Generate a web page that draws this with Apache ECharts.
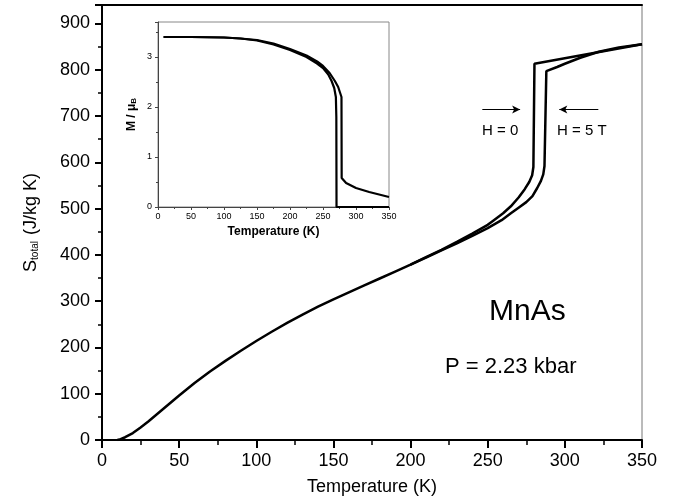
<!DOCTYPE html>
<html>
<head>
<meta charset="utf-8">
<script src="https://cdn.jsdelivr.net/npm/echarts@6/dist/echarts.min.js"></script>
<style>
  html, body { margin: 0; padding: 0; background: #fff; }
  #chart { width: 685px; height: 503px; }
</style>
</head>
<body>
<div id="chart"></div>
<script>
// total entropy S (J/kg K) vs temperature (K)
var sZeroField = [
  [10, 0], [12, 2], [15, 6], [20, 15], [25, 27], [30, 40], [35, 54], [40, 68], [45, 82],
  [50, 96], [60, 123], [70, 148], [80, 171], [90, 193], [100, 214], [110, 234], [120, 253],
  [130, 271], [140, 288], [150, 304], [160, 319], [170, 334], [180, 349], [190, 364],
  [200, 379], [210, 395], [220, 411], [230, 428], [240, 446], [250, 465], [254, 475],
  [260, 490], [265, 505], [270, 524], [274, 542], [277, 558], [278.8, 572], [279.6, 590],
  [280.3, 813], [350, 855]
];
var sFiveTesla = [
  [200, 379], [210, 394], [220, 410], [230, 425], [240, 441], [250, 458], [259, 475],
  [265, 490], [270, 502], [275, 514], [279, 527], [282, 544], [284.5, 560], [286, 574],
  [286.8, 592], [288, 797], [295, 806], [300, 813], [310, 826], [322, 839], [335, 848],
  [350, 855]
];
// inset: magnetisation M / muB vs temperature (K)
var mZeroField = [
  [8.5, 3.4], [50, 3.4], [100, 3.39], [125, 3.37], [150, 3.33], [175, 3.25], [200, 3.14],
  [225, 3.0], [241, 2.87], [250, 2.78], [258, 2.65], [263, 2.52], [267, 2.38],
  [269.5, 2.2], [270.2, 1.8], [270.5, 0], [350, 0]
];
var mFiveTesla = [
  [8.5, 3.4], [50, 3.4], [100, 3.39], [125, 3.37], [150, 3.34], [175, 3.27], [200, 3.16],
  [225, 3.03], [241, 2.91], [250, 2.82], [260, 2.68], [268, 2.52], [273, 2.4],
  [276, 2.28], [278, 2.2], [278.3, 0.58], [285, 0.48], [300, 0.38], [320, 0.3],
  [335, 0.25], [350, 0.2]
];
var arrowY = 714;
var arrows = [[[246.5, arrowY], [271, arrowY]], [[321.7, arrowY], [296.4, arrowY]]];

var FONT = '"Liberation Sans", Arial, sans-serif';
var chart = echarts.init(document.getElementById('chart'));

var option = {
  animation: false,
  backgroundColor: '#fff',
  textStyle: { fontFamily: FONT, color: '#000' },
  grid: [
    { left: 102, right: 43, top: 5, bottom: 63, show: true, borderColor: '#777', borderWidth: 1 },
    { left: 158, right: 296, top: 22, bottom: 296, show: true, borderColor: '#888', borderWidth: 1, backgroundColor: '#fff' }
  ],
  xAxis: [
    {
      gridIndex: 0, type: 'value', min: 0, max: 350, interval: 50,
      name: 'Temperature (K)', nameLocation: 'middle', nameGap: 38,
      nameTextStyle: { fontSize: 18, fontFamily: FONT, color: '#000' },
      axisLine: { lineStyle: { color: '#000', width: 2 } },
      axisTick: { length: 8, lineStyle: { color: '#000', width: 2 } },
      minorTick: { show: true, splitNumber: 2, length: 5, lineStyle: { color: '#000', width: 1.5 } },
      axisLabel: { fontSize: 18, margin: 12, color: '#000', fontFamily: FONT },
      splitLine: { show: false }
    },
    {
      gridIndex: 0, type: 'value', min: 0, max: 350, position: 'top',
      axisLine: { lineStyle: { color: '#000', width: 2 } },
      axisTick: { show: false }, axisLabel: { show: false }, splitLine: { show: false }
    },
    {
      gridIndex: 1, type: 'value', min: 0, max: 350, interval: 50,
      name: 'Temperature (K)', nameLocation: 'middle', nameGap: 19,
      nameTextStyle: { fontSize: 12, fontWeight: 'bold', fontFamily: FONT, color: '#000' },
      axisLine: { lineStyle: { color: '#444', width: 1 } },
      axisTick: { length: 3, lineStyle: { color: '#444' } },
      minorTick: { show: true, splitNumber: 2, length: 2, lineStyle: { color: '#444' } },
      axisLabel: { fontSize: 9, margin: 5, color: '#000', fontFamily: FONT },
      splitLine: { show: false }
    }
  ],
  yAxis: [
    {
      gridIndex: 0, type: 'value', min: 0, max: 940, interval: 100,
      name: '{s|S}{sub|total}{s| (J/kg K)}', nameLocation: 'middle', nameGap: 62,
      nameTextStyle: {
        fontFamily: FONT, color: '#000',
        rich: {
          s: { fontSize: 18, fontFamily: FONT, color: '#000' },
          sub: { fontSize: 10, fontFamily: FONT, color: '#000', verticalAlign: 'bottom', padding: [8, 1, 0, 0] }
        }
      },
      axisLine: { lineStyle: { color: '#000', width: 2 } },
      axisTick: { length: 7, lineStyle: { color: '#000', width: 2 } },
      minorTick: { show: true, splitNumber: 2, length: 4, lineStyle: { color: '#000', width: 1.5 } },
      axisLabel: { fontSize: 18, margin: 12, color: '#000', fontFamily: FONT, showMaxLabel: false },
      splitLine: { show: false }
    },
    {
      gridIndex: 1, type: 'value', min: 0, max: 3.7, interval: 1,
      name: '{m|M / μ}{sub|B}', nameLocation: 'middle', nameGap: 20,
      nameTextStyle: {
        fontFamily: FONT, color: '#000',
        rich: {
          m: { fontSize: 12, fontWeight: 'bold', fontFamily: FONT, color: '#000' },
          sub: { fontSize: 8, fontWeight: 'bold', fontFamily: FONT, color: '#000', verticalAlign: 'bottom', padding: [5, 0, 0, 0] }
        }
      },
      axisLine: { lineStyle: { color: '#444', width: 1 } },
      axisTick: { length: 3, lineStyle: { color: '#444' } },
      minorTick: { show: true, splitNumber: 2, length: 2, lineStyle: { color: '#444' } },
      axisLabel: { fontSize: 9, margin: 6, color: '#000', fontFamily: FONT, showMaxLabel: false },
      splitLine: { show: false }
    }
  ],
  series: [
    {
      name: 'H = 0', type: 'line', xAxisIndex: 0, yAxisIndex: 0, data: sZeroField,
      showSymbol: false, lineStyle: { color: '#000', width: 2.5 },
      markLine: {
        silent: true, symbol: ['none', 'arrow'], symbolSize: [6, 8],
        label: { show: false },
        lineStyle: { color: '#000', width: 1, type: 'solid' },
        data: arrows.map(function (a) { return [{ coord: a[0] }, { coord: a[1] }]; })
      }
    },
    {
      name: 'H = 5 T', type: 'line', xAxisIndex: 0, yAxisIndex: 0, data: sFiveTesla,
      showSymbol: false, lineStyle: { color: '#000', width: 2.5 }
    },
    {
      name: 'M H = 0', type: 'line', xAxisIndex: 2, yAxisIndex: 1, data: mZeroField,
      showSymbol: false, lineStyle: { color: '#000', width: 2.2 }
    },
    {
      name: 'M H = 5 T', type: 'line', xAxisIndex: 2, yAxisIndex: 1, data: mFiveTesla,
      showSymbol: false, lineStyle: { color: '#000', width: 2.2 }
    }
  ],
  graphic: [
    { type: 'text', left: 489, top: 297, style: { text: 'MnAs', font: '30px ' + FONT, fill: '#000' } },
    { type: 'text', left: 445, top: 356, style: { text: 'P = 2.23 kbar', font: '22px ' + FONT, fill: '#000' } },
    { type: 'text', left: 482, top: 123, style: { text: 'H = 0', font: '15px ' + FONT, fill: '#000' } },
    { type: 'text', left: 557, top: 123, style: { text: 'H = 5 T', font: '15px ' + FONT, fill: '#000' } }
  ]
};
chart.setOption(option);
</script>
</body>
</html>
